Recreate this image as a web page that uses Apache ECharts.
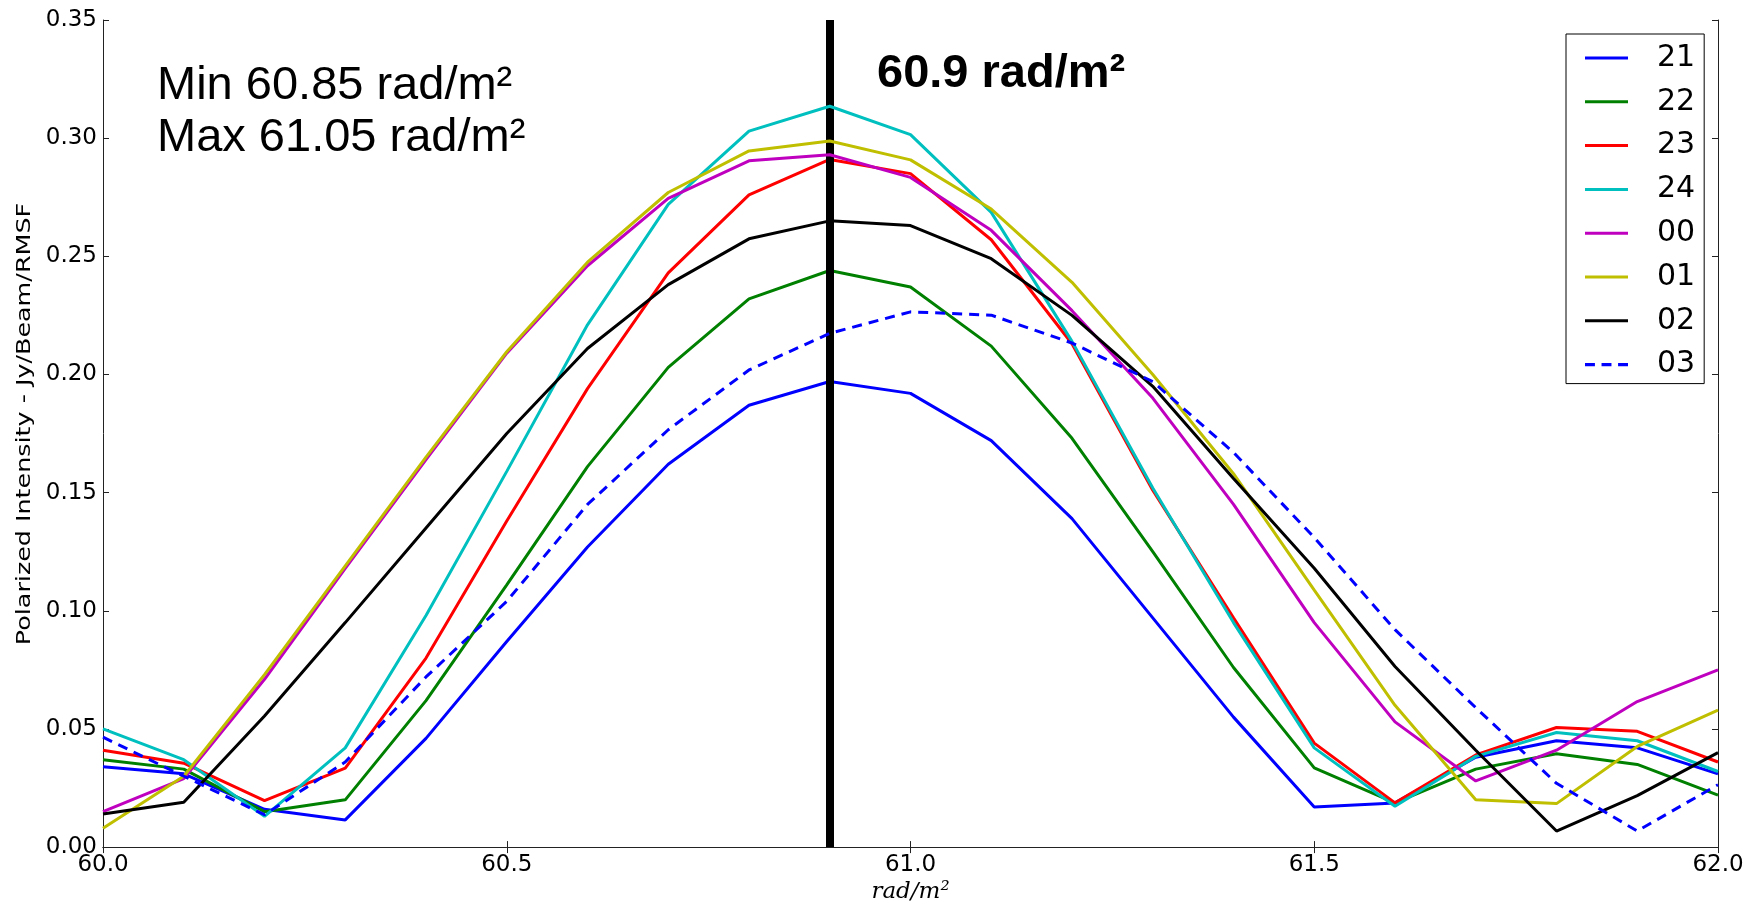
<!DOCTYPE html>
<html>
<head>
<meta charset="utf-8">
<script src="https://cdn.jsdelivr.net/npm/echarts@6/dist/echarts.min.js"></script>
<style>
  html, body { margin: 0; padding: 0; background: #fff; }
  #chart { width: 1756px; height: 909px; }
</style>
</head>
<body>
<div id="chart"></div>
<script>
// Faraday depth samples (rad/m^2)
const rmValues = [60.0, 60.1, 60.2, 60.3, 60.4, 60.5, 60.6, 60.7, 60.8, 60.9, 61.0,
                  61.1, 61.2, 61.3, 61.4, 61.5, 61.6, 61.7, 61.8, 61.9, 62.0];

// polarized intensity per hour
const pi21 = [0.034, 0.031, 0.016, 0.0115, 0.046, 0.087, 0.127, 0.162, 0.187, 0.197, 0.192,
              0.172, 0.139, 0.097, 0.055, 0.017, 0.0187, 0.038, 0.045, 0.042, 0.031];
const pi22 = [0.037, 0.033, 0.015, 0.020, 0.062, 0.111, 0.161, 0.203, 0.232, 0.244, 0.237,
              0.212, 0.173, 0.125, 0.076, 0.0335, 0.0187, 0.033, 0.0395, 0.035, 0.022];
const pi23 = [0.041, 0.0355, 0.0197, 0.0334, 0.080, 0.138, 0.194, 0.243, 0.276, 0.291, 0.285,
              0.257, 0.213, 0.151, 0.097, 0.044, 0.0187, 0.039, 0.0506, 0.049, 0.036];
const pi24 = [0.050, 0.037, 0.013, 0.042, 0.098, 0.159, 0.221, 0.272, 0.303, 0.3135, 0.3015,
              0.2686, 0.214, 0.152, 0.095, 0.042, 0.0173, 0.0384, 0.0485, 0.045, 0.032];
const pi00 = [0.015, 0.029, 0.071, 0.118, 0.164, 0.209, 0.246, 0.2745, 0.2904, 0.293, 0.2834,
              0.261, 0.227, 0.190, 0.145, 0.095, 0.053, 0.028, 0.041, 0.0616, 0.075];
const pi01 = [0.008, 0.030, 0.073, 0.119, 0.165, 0.2096, 0.2475, 0.277, 0.2946, 0.2988, 0.2908,
              0.270, 0.239, 0.200, 0.158, 0.1087, 0.060, 0.020, 0.0184, 0.0426, 0.058];
const pi02 = [0.014, 0.019, 0.0555, 0.095, 0.135, 0.175, 0.211, 0.238, 0.2574, 0.265, 0.263,
              0.249, 0.225, 0.195, 0.156, 0.118, 0.0764, 0.041, 0.0068, 0.0218, 0.040];
const pi03 = [0.0465, 0.030, 0.0137, 0.036, 0.072, 0.104, 0.145, 0.1766, 0.2019, 0.2174, 0.2265,
              0.2251, 0.2133, 0.197, 0.167, 0.131, 0.092, 0.059, 0.027, 0.0068, 0.0264];

const seriesNames = ["21", "22", "23", "24", "00", "01", "02", "03"];
const seriesData = [pi21, pi22, pi23, pi24, pi00, pi01, pi02, pi03];
const seriesColors = ["#0000ff", "#008000", "#ff0000", "#00bfbf", "#bf00bf", "#bfbf00", "#000000", "#0000ff"];

const peakRM = 60.9;

// legend glyphs: a plain bar, or three dashes for the dashed series
const solidIcon = "path://M0,0h43v3h-43z";
const dashIcon = "path://M0,0h9v3h-9zM15,0h9v3h-9zM30,0h9v3h-9z";

let chart = echarts.init(document.getElementById("chart"));

let series = seriesNames.map((name, i) => ({
  name: name,
  type: "line",
  symbol: "none",
  data: rmValues.map((x, j) => [x, seriesData[i][j]]),
  lineStyle: {
    color: seriesColors[i],
    width: 3,
    type: name === "03" ? [10, 7] : "solid"
  },
  itemStyle: { color: seriesColors[i] },
  z: 2 + i
}));

// thick vertical marker at the peak
series.push({
  name: "peak",
  type: "line",
  data: [],
  z: 20,
  markLine: {
    silent: true,
    symbol: ["none", "none"],
    label: { show: false },
    lineStyle: { color: "#000", width: 8, type: "solid" },
    data: [{ xAxis: peakRM }]
  }
});

const tickFont = { fontFamily: "DejaVu Sans", fontSize: 23, color: "#000" };
const axisLine = { show: true, lineStyle: { color: "#222", width: 1 } };
const axisTick = { show: true, inside: true, length: 6, lineStyle: { color: "#222", width: 1 } };

chart.setOption({
  animation: false,
  backgroundColor: "#fff",
  grid: { left: 103, right: 38, top: 20, bottom: 58, containLabel: false },
  legend: {
    data: seriesNames.map(n => ({ name: n, icon: n === "03" ? dashIcon : solidIcon })),
    orient: "vertical",
    left: 1566,
    top: 34,
    padding: [9, 9, 4, 19],
    itemWidth: 43,
    itemHeight: 14,
    itemGap: 13.8,
    borderColor: "#000",
    borderWidth: 1,
    backgroundColor: "#fff",
    textStyle: {
      fontFamily: "DejaVu Sans", fontSize: 30,
      color: "#000", padding: [0, 0, 0, 24]
    }
  },
  xAxis: [{
    type: "value",
    min: 60.0,
    max: 62.0,
    interval: 0.5,
    name: "rad/m²",
    nameLocation: "middle",
    nameGap: 30,
    nameTextStyle: { fontFamily: "DejaVu Serif", fontStyle: "italic", fontSize: 23, color: "#000" },
    axisLine: axisLine,
    axisTick: axisTick,
    splitLine: { show: false },
    axisLabel: Object.assign({ margin: 6, formatter: v => v.toFixed(1) }, tickFont)
  }, {
    type: "value",
    position: "top",
    min: 60.0,
    max: 62.0,
    interval: 0.5,
    axisLine: axisLine,
    axisTick: axisTick,
    splitLine: { show: false },
    axisLabel: { show: false }
  }],
  yAxis: [{
    type: "value",
    min: 0,
    max: 0.35,
    interval: 0.05,
    axisLine: axisLine,
    axisTick: axisTick,
    splitLine: { show: false },
    axisLabel: Object.assign({ margin: 6, formatter: v => v.toFixed(2) }, tickFont)
  }, {
    type: "value",
    position: "right",
    min: 0,
    max: 0.35,
    interval: 0.05,
    axisLine: axisLine,
    axisTick: axisTick,
    splitLine: { show: false },
    axisLabel: { show: false }
  }],
  graphic: [
    {
      // y axis title, stretched along its length like the original
      type: "text", x: 25, y: 424, rotation: Math.PI / 2, scaleX: 1.27, z: 50,
      style: {
        text: "Polarized Intensity - Jy/Beam/RMSF",
        font: "20px 'DejaVu Sans'", fill: "#000",
        align: "center", verticalAlign: "middle"
      }
    },
    {
      type: "text", x: 157, y: 86, z: 50,
      style: { text: "Min 60.85 rad/m²", font: "47px 'Liberation Sans'", fill: "#000", verticalAlign: "middle" }
    },
    {
      type: "text", x: 157, y: 138, z: 50,
      style: { text: "Max 61.05 rad/m²", font: "47px 'Liberation Sans'", fill: "#000", verticalAlign: "middle" }
    },
    {
      type: "text", x: 877, y: 74, z: 50,
      style: { text: "60.9 rad/m²", font: "bold 47px 'Liberation Sans'", fill: "#000", verticalAlign: "middle" }
    }
  ],
  series: series
});
</script>
</body>
</html>
